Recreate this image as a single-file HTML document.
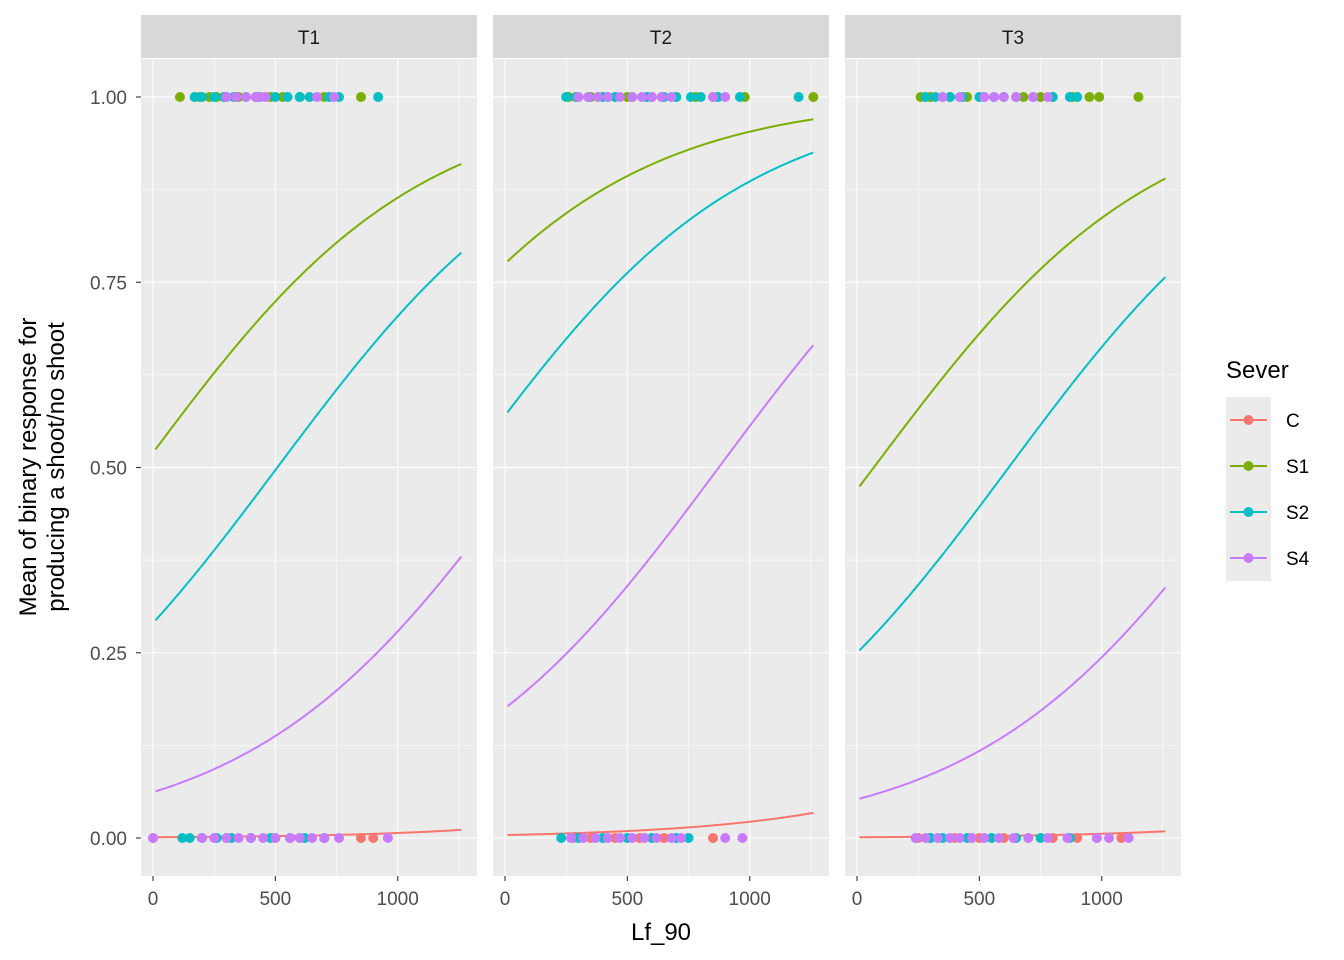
<!DOCTYPE html>
<html><head><meta charset="utf-8"><style>
html,body{margin:0;padding:0;background:#fff;}
svg{display:block;font-family:"Liberation Sans",Arial,sans-serif;}
</style></head><body>
<svg id="chart" width="1344" height="960" viewBox="0 0 1344 960"></svg>
<script>
// ---- data ----
const panels = ["T1","T2","T3"];
const groups = ["C","S1","S2","S4"];
const colors = ["#F8766D","#7CAE00","#00BFC4","#C77CFF"];
const xTicks = [0,500,1000];
const yTicks = [0,0.25,0.5,0.75,1];
const yTickLabels = ["0.00","0.25","0.50","0.75","1.00"];
// logit at Lf_90 = 0 and logit at Lf_90 = 1260 for each panel, order C,S1,S2,S4
const logitStart = [[-6.9,0.08,-0.895,-2.72],[-5.52,1.237,0.282,-1.55],[-6.9,-0.12,-1.1,-2.9]];
const logitEnd = [[-4.5,2.31,1.325,-0.49],[-3.35,3.476,2.512,0.686],[-4.7,2.09,1.136,-0.672]];
// observed points: [panel][group] x values at response 1 and response 0
const ones = [
 [[],[110,190,230,260,300,350,420,480,530,600,700,850],[170,200,250,290,330,380,430,500,550,600,640,720,760,920],[300,340,380,420,440,460,670,740]],
 [[],[260,300,350,420,500,600,700,780,850,980,1260],[250,290,340,400,450,520,580,650,700,760,800,870,960,1200],[300,340,380,420,470,520,560,600,640,680,850,900]],
 [[],[260,300,380,450,520,600,680,750,800,880,950,990,1150],[280,320,380,430,500,560,650,720,800,870,900],[350,420,520,560,600,650,720,780]]
];
const zeros = [
 [[0,200,300,400,500,600,700,850,900],[],[120,150,200,260,320,400,480,560,620,700],[0,200,250,300,350,400,450,500,560,600,650,700,760,960]],
 [[280,350,450,550,650,850],[],[230,300,400,500,600,700,750],[270,320,370,420,470,520,570,620,680,720,900,970]],
 [[250,300,400,500,600,700,800,900,980,1080],[],[240,300,350,450,550,650,750,870],[240,280,330,380,420,470,520,580,640,700,780,860,980,1030,1110]]
];
// ---- layout ----
const NS="http://www.w3.org/2000/svg";
const svg=document.getElementById("chart");
const panelLeft=[141,493,845], panelW=336, plotTop=59, plotBottom=876;
function mk(tag,attrs,parent){const e=document.createElementNS(NS,tag);for(const k in attrs)e.setAttribute(k,attrs[k]);(parent||svg).appendChild(e);return e;}
const yS=v=>838-v*741;
const xS=(p,v)=>panelLeft[p]+12+v*0.2447;
panels.forEach((name,p)=>{
  const g=mk("g",{});
  
  
  const L=panelLeft[p];
  mk("rect",{x:L,y:plotTop,width:panelW,height:plotBottom-plotTop,fill:"#EBEBEB"},g);
  [250,750,1250].forEach(v=>{const x=xS(p,v);if(x<L+panelW)mk("line",{x1:x,x2:x,y1:plotTop,y2:plotBottom,stroke:"#fff","stroke-width":0.55},g);});
  [0.125,0.375,0.625,0.875].forEach(v=>mk("line",{x1:L,x2:L+panelW,y1:yS(v),y2:yS(v),stroke:"#fff","stroke-width":0.55},g));
  xTicks.forEach(v=>mk("line",{x1:xS(p,v),x2:xS(p,v),y1:plotTop,y2:plotBottom,stroke:"#fff","stroke-width":1.1},g));
  yTicks.forEach(v=>mk("line",{x1:L,x2:L+panelW,y1:yS(v),y2:yS(v),stroke:"#fff","stroke-width":1.1},g));
  const s=mk("rect",{x:L,y:15,width:panelW,height:43,fill:"#D9D9D9"});
  
  
  const st=mk("text",{x:L+panelW/2,y:44,"text-anchor":"middle","font-size":19,fill:"#1A1A1A"});
  st.textContent=name;
  xTicks.forEach(v=>{
    mk("line",{x1:xS(p,v),x2:xS(p,v),y1:plotBottom,y2:plotBottom+5,stroke:"#333","stroke-width":1.1});
    const t=mk("text",{x:xS(p,v),y:905,"text-anchor":"middle","font-size":19,fill:"#4D4D4D"});
    
    
    t.textContent=v;
  });
  groups.forEach((gr,k)=>{
    let d="";
    for(let i=0;i<=100;i++){
      const xv=10+1250*i/100;
      const lg=logitStart[p][k]+(logitEnd[p][k]-logitStart[p][k])*xv/1260;
      const pr=1/(1+Math.exp(-lg));
      d+=(i?"L":"M")+xS(p,xv).toFixed(2)+","+yS(pr).toFixed(2);
    }
    const c=mk("path",{d:d,fill:"none",stroke:colors[k],"stroke-width":2},g);
    
    
  });
  groups.forEach((gr,k)=>{
    [[ones,1],[zeros,0]].forEach(([arr,yv])=>{
      arr[p][k].forEach(xv=>{
        const c=mk("circle",{cx:xS(p,xv),cy:yS(yv),r:5,fill:colors[k]},g);
        
        
      });
    });
  });
});
yTicks.forEach((v,i)=>{
  mk("line",{x1:136,x2:141,y1:yS(v),y2:yS(v),stroke:"#333","stroke-width":1.1});
  const t=mk("text",{x:127,y:yS(v)+7,"text-anchor":"end","font-size":19,fill:"#4D4D4D"});
  
  
  t.textContent=yTickLabels[i];
});
const xt=mk("text",{x:661,y:940,"text-anchor":"middle","font-size":24,fill:"#000"});


xt.textContent="Lf_90";
const yt=mk("text",{transform:"translate(36,467) rotate(-90)","text-anchor":"middle","font-size":24,fill:"#000"});


const t1=mk("tspan",{x:0,dy:0},yt);t1.textContent="Mean of binary response for";
const t2=mk("tspan",{x:0,dy:28},yt);t2.textContent="producing a shoot/no shoot";
const lg=mk("g",{});


const lt=mk("text",{x:1226,y:378,"font-size":24,fill:"#000"},lg);lt.textContent="Sever";
groups.forEach((gr,k)=>{
  const cy=420+k*46;
  const e=mk("g",{},lg);
  
  
  mk("rect",{x:1226,y:cy-23,width:45,height:46,fill:"#EBEBEB"},e);
  mk("line",{x1:1230,x2:1267,y1:cy,y2:cy,stroke:colors[k],"stroke-width":2},e);
  mk("circle",{cx:1248.5,cy:cy,r:5,fill:colors[k]},e);
  const t=mk("text",{x:1286,y:cy+7,"font-size":19,fill:"#000"},e);t.textContent=gr;
});
</script>
</body></html>
